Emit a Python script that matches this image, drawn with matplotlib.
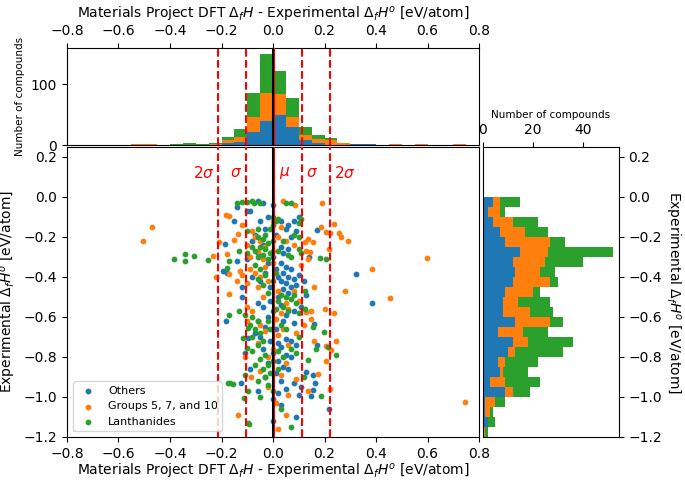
import numpy as np
import matplotlib
matplotlib.use("Agg")
import matplotlib.pyplot as plt

# scatter points: (DFT - expt error, expt formation enthalpy)
others_pts = [(-0.06,-0.02),(-0.04,-0.03),(-0.09,-0.07),(-0.14,-0.05),(-0.1,-0.07),(0.0,-0.04),
	(-0.02,-0.1),(0.03,-0.12),(0.08,-0.12),(0.1,-0.1),(-0.05,-0.12),(0.06,-0.14),
	(-0.03,-0.16),(0.05,-0.16),(0.09,-0.17),(0.17,-0.165),(-0.07,-0.19),(0.01,-0.19),
	(-0.186,-0.235),(-0.141,-0.318),(-0.195,-0.37),(-0.18,-0.378),
	(-0.08,-0.22),(-0.04,-0.24),(0.03,-0.25),(0.06,-0.26),(-0.06,-0.28),(0.0,-0.3),(-0.1,-0.31),(0.04,-0.28),(-0.02,-0.33),
	(0.03,-0.33),(0.05,-0.35),(0.07,-0.36),(0.04,-0.38),(0.02,-0.4),(0.06,-0.4),(0.08,-0.41),(0.03,-0.42),(0.05,-0.43),
	(0.07,-0.45),(0.01,-0.36),(-0.03,-0.38),(-0.08,-0.4),(-0.05,-0.42),(0.1,-0.39),(0.09,-0.44),(0.04,-0.46),
	(0.321,-0.387),(0.383,-0.528),
	(0.13,-0.49),(0.06,-0.48),(0.02,-0.5),(-0.01,-0.52),(0.03,-0.54),(-0.04,-0.55),(-0.06,-0.53),(0.0,-0.57),(0.05,-0.59),
	(0.08,-0.57),(-0.183,-0.618),(-0.02,-0.6),
	(0.159,-0.637),(0.04,-0.62),(0.08,-0.63),(-0.06,-0.62),(-0.03,-0.65),(0.01,-0.66),(-0.096,-0.707),(-0.07,-0.68),
	(-0.05,-0.7),(-0.01,-0.72),(0.02,-0.73),(0.05,-0.71),(0.07,-0.72),(0.09,-0.74),(0.171,-0.74),(0.03,-0.75),(-0.04,-0.76),(0.0,-0.78),
	(0.05,-0.79),(0.07,-0.8),(0.02,-0.82),(-0.02,-0.83),(0.04,-0.85),(0.06,-0.86),(0.128,-0.877),(0.157,-0.89),(0.163,-0.932),
	(0.154,-0.965),(0.148,-0.995),(0.217,-1.062),
	(0.01,-0.88),(-0.03,-0.9),(0.03,-0.92),(0.08,-0.93),(0.11,-0.95),(0.05,-0.96),(0.02,-0.98),(0.1,-0.99),(-0.124,-0.932),
	(0.0,-1.01),(0.03,-1.04),(0.09,-1.1),(0.0,-1.12),(-0.06,-0.97),(-0.09,-0.86),(-0.11,-0.78),
	(-0.15,-0.12),(0.14,-0.3),(0.12,-0.42),(0.11,-0.55),(-0.12,-0.45),(-0.12,-0.5),(0.07,-0.2),(-0.01,-0.45)]

groups_pts = [(-0.504,-0.22),(-0.469,-0.148),(-0.232,-0.295),(-0.221,-0.398),(0.597,-0.307),(0.383,-0.362),(0.454,-0.507),
	(0.746,-1.026),(0.28,-0.47),
	(0.189,-0.032),(0.238,-0.133),(0.185,-0.148),(0.205,-0.177),(0.22,-0.18),(0.258,-0.182),(0.264,-0.198),(0.293,-0.218),
	(0.135,-0.21),(0.124,-0.225),(0.155,-0.227),(0.217,-0.262),(0.144,-0.277),(0.135,-0.312),
	(0.128,-0.573),(0.149,-0.568),(0.202,-0.558),(0.238,-0.582),(0.149,-0.612),(0.246,-0.72),(0.159,-0.72),(0.205,-0.743),
	(0.226,-0.765),(0.207,-0.818),(0.176,-0.883),(0.22,-0.96),(0.137,-0.972),
	(-0.183,-0.09),(-0.17,-0.095),(-0.208,-0.225),(-0.151,-0.215),(-0.135,-0.187),(-0.177,-0.285),(-0.17,-0.387),
	(-0.128,-0.37),(-0.122,-0.39),(-0.17,-0.485),(-0.102,-0.548),(-0.085,-0.898),(-0.135,-1.09),
	(0.085,-0.04),(0.03,-0.15),(-0.08,-0.17),(0.08,-0.24),(0.13,-0.27),
	(-0.07,-0.2),(-0.05,-0.22),(-0.03,-0.25),(-0.06,-0.27),(-0.09,-0.3),(-0.04,-0.31),(0.02,-0.2),(0.05,-0.22),(-0.1,-0.24),(0.0,-0.27),
	(-0.09,-0.36),(-0.07,-0.38),(-0.05,-0.4),(-0.1,-0.43),(-0.06,-0.45),(-0.03,-0.35),(0.0,-0.33),(-0.02,-0.42),(0.08,-0.47),(0.1,-0.52),
	(0.02,-0.47),(-0.04,-0.5),(0.05,-0.53),(-0.08,-0.57),(0.03,-0.58),(0.06,-0.56),(0.01,-0.61),(-0.05,-0.64),(0.04,-0.66),
	(0.02,-0.69),(-0.03,-0.67),(0.09,-0.68),(0.06,-0.74),(-0.06,-0.73),(0.0,-0.76),
	(-0.02,-0.8),(0.05,-0.83),(-0.05,-0.87),(0.03,-0.89),(0.09,-0.91),(-0.02,-0.95),(0.06,-0.99),(0.01,-1.03),(0.05,-1.09),
	(0.02,-1.16),(-0.1,-0.62),(0.12,-0.64),(-0.11,-0.8),(0.0,-0.12),(-0.12,-0.14),(0.04,-0.02),(0.11,-0.34),(-0.14,-0.42),(0.16,-0.45)]

lanth_pts = [(-0.384,-0.31),(-0.342,-0.287),(-0.34,-0.32),(-0.307,-0.295),(-0.251,-0.315),
	(0.183,-0.307),(0.205,-0.31),(0.124,-0.468),(0.124,-0.56),(0.154,-0.65),(0.198,-0.675),(0.212,-0.75),(0.167,-0.762),
	(0.243,-0.79),(0.135,-0.815),(0.188,-0.993),
	(-0.141,-0.032),(-0.122,-0.023),(-0.102,-0.023),(-0.073,-0.03),(-0.08,-0.02),(-0.05,-0.03),(0.05,-0.03),(0.07,-0.03),
	(-0.131,-0.27),(-0.17,-0.318),(-0.177,-0.357),(-0.167,-0.928),(-0.154,-0.935),(-0.092,-1.135),(-0.17,-0.59),
	(-0.131,-0.57),(-0.109,-0.59),(-0.096,-0.657),(-0.115,-0.707),(-0.102,-0.757),(-0.109,-0.89),(-0.174,-0.932),
	(-0.111,-1.003),(-0.096,-0.97),(-0.096,-1.132),
	(0.0,-0.1),(0.01,-0.12),(0.0,-0.14),(0.02,-0.11),(-0.01,-0.16),(0.11,-0.11),(0.1,-0.13),(-0.1,-0.17),(-0.06,-0.16),
	(0.08,-0.19),(0.1,-0.2),(0.04,-0.22),(0.1,-0.26),(0.11,-0.28),
	(-0.06,-0.2),(-0.04,-0.21),(-0.02,-0.23),(-0.05,-0.25),(-0.03,-0.26),(-0.07,-0.27),(-0.01,-0.28),(-0.04,-0.29),
	(-0.06,-0.3),(-0.02,-0.31),(0.02,-0.27),(0.06,-0.29),(-0.08,-0.25),(0.0,-0.22),(-0.03,-0.19),(0.07,-0.3),(-0.1,-0.28),
	(-0.07,-0.34),(-0.05,-0.36),(-0.03,-0.39),(-0.06,-0.41),(0.01,-0.38),(0.0,-0.42),(-0.04,-0.44),
	(0.03,-0.49),(0.05,-0.5),(0.07,-0.51),(0.09,-0.53),(0.02,-0.52),(0.04,-0.55),(0.06,-0.57),(0.08,-0.49),(0.01,-0.56),
	(-0.02,-0.48),(0.1,-0.58),
	(-0.08,-0.6),(-0.06,-0.62),(-0.09,-0.64),(-0.07,-0.66),(-0.05,-0.68),(-0.08,-0.7),(-0.04,-0.72),(-0.06,-0.74),
	(-0.02,-0.62),(0.03,-0.64),(0.05,-0.66),(0.07,-0.76),(0.09,-0.78),(-0.08,-0.77),
	(-0.03,-0.79),(-0.05,-0.81),(-0.02,-0.84),(-0.04,-0.86),(-0.01,-0.88),(-0.03,-0.9),(-0.06,-0.92),(0.0,-0.82),
	(0.02,-0.86),(0.04,-0.8),(-0.07,-0.84),(-0.02,-0.94),(0.0,-0.97),(0.03,-1.06),(0.07,-1.15),(-0.05,-1.0),(0.12,-0.9),
	(0.02,-0.77),(0.1,-0.7),(-0.01,-0.66)]

labels = ["Others", "Groups 5, 7, and 10", "Lanthanides"]
colors = ["tab:blue", "tab:orange", "tab:green"]

# top histogram: counts per 0.05 eV bin from -0.8 to 0.8 (stacked)
top_edges = np.linspace(-0.8, 0.8, 33)
top_others = [0,0,0,0,0,0,0,0,0,0,0,0,3,5,21,39,50,29,8,4,0,0,1,1,0,0,0,0,0,0,0,0]
top_groups = [0,0,0,0,0,1,1,0,0,0,0,2,5,9,25,47,34,17,9,6,9,4,0,1,0,1,0,1,0,0,1,0]
top_lanth  = [0,0,0,0,0,0,0,0,1,3,1,1,5,13,39,64,37,31,13,6,2,0,0,0,0,0,0,0,0,0,0,0]

# right histogram: counts per 0.05 eV bin from -1.2 to 0.0 (stacked)
right_edges = np.linspace(-1.2, 0.0, 25)
right_others = [0,2,1,1,9,3,7,6,10,12,6,13,8,8,9,12,13,12,15,9,7,4,2,4]
right_groups = [1,0,2,4,3,6,1,3,3,6,10,14,11,6,11,15,10,13,11,18,10,8,5,3]
right_lanth  = [1,3,1,4,7,14,10,13,19,18,10,5,9,13,3,3,6,15,26,6,9,10,2,8]

mu = 0.004
sigma = 0.108

fig = plt.figure(figsize=(6.85, 4.82), dpi=100)
ax = fig.add_axes([0.0978, 0.0934, 0.6015, 0.6017])
axt = fig.add_axes([0.0978, 0.699, 0.6015, 0.2012])
axr = fig.add_axes([0.705, 0.0934, 0.1985, 0.6017])

# main scatter
for pts, lab, c in zip([others_pts, groups_pts, lanth_pts], labels, colors):
	p = np.array(pts)
	ax.scatter(p[:, 0], p[:, 1], s=10, color=c, label=lab)

for a in [ax, axt]:
	for k in [-2, -1, 1, 2]:
		a.axvline(mu + k*sigma, color="r", ls="--", lw=1.5, zorder=3)
	a.axvline(mu, color="r", lw=1.5, zorder=3)
	a.axvline(0, color="k", lw=1.5, zorder=4)

ytxt = 0.12
ax.text(mu - 2*sigma - 0.015, ytxt, r"$2\sigma$", color="r", fontsize=11, ha="right", va="center")
ax.text(mu - sigma - 0.015, ytxt, r"$\sigma$", color="r", fontsize=11, ha="right", va="center")
ax.text(mu + 0.02, ytxt, r"$\mu$", color="r", fontsize=11, ha="left", va="center")
ax.text(mu + sigma + 0.015, ytxt, r"$\sigma$", color="r", fontsize=11, ha="left", va="center")
ax.text(mu + 2*sigma + 0.015, ytxt, r"$2\sigma$", color="r", fontsize=11, ha="left", va="center")

ax.set_xlim(-0.8, 0.8)
ax.set_ylim(-1.2, 0.25)
ax.set_yticks(np.arange(-1.2, 0.21, 0.2))
ax.set_xlabel(r"Materials Project DFT $\Delta_f H$ - Experimental $\Delta_f H^o$ [eV/atom]", fontsize=10, labelpad=1)
ax.set_ylabel(r"Experimental $\Delta_f H^o$ [eV/atom]", fontsize=10)
ax.legend(loc="lower left", fontsize=8)

# top histogram
w = top_edges[1] - top_edges[0]
bottom = np.zeros(len(top_others))
for cnt, c in zip([top_others, top_groups, top_lanth], colors):
	axt.bar(top_edges[:-1], cnt, width=w, bottom=bottom, align="edge", color=c, lw=0)
	bottom += np.array(cnt)
axt.set_xlim(-0.8, 0.8)
axt.set_ylim(0, 159)
axt.set_yticks([0, 100])
axt.xaxis.tick_top()
axt.xaxis.set_label_position("top")
axt.set_xlabel(r"Materials Project DFT $\Delta_f H$ - Experimental $\Delta_f H^o$ [eV/atom]", fontsize=10)
axt.set_ylabel("Number of compounds", fontsize=7.5)

# right histogram
h = right_edges[1] - right_edges[0]
left = np.zeros(len(right_others))
for cnt, c in zip([right_others, right_groups, right_lanth], colors):
	axr.barh(right_edges[:-1], cnt, height=h, left=left, align="edge", color=c, lw=0)
	left += np.array(cnt)
axr.set_ylim(-1.2, 0.25)
axr.set_yticks(np.arange(-1.2, 0.21, 0.2))
axr.set_xlim(0, 54.4)
axr.set_xticks([0, 20, 40])
axr.xaxis.tick_top()
axr.xaxis.set_label_position("top")
axr.yaxis.tick_right()
axr.yaxis.set_label_position("right")
axr.set_xlabel("Number of compounds", fontsize=7.5)
axr.set_ylabel(r"Experimental $\Delta_f H^o$ [eV/atom]", fontsize=10, rotation=270, labelpad=14)

plt.savefig("out.png", dpi=100)
